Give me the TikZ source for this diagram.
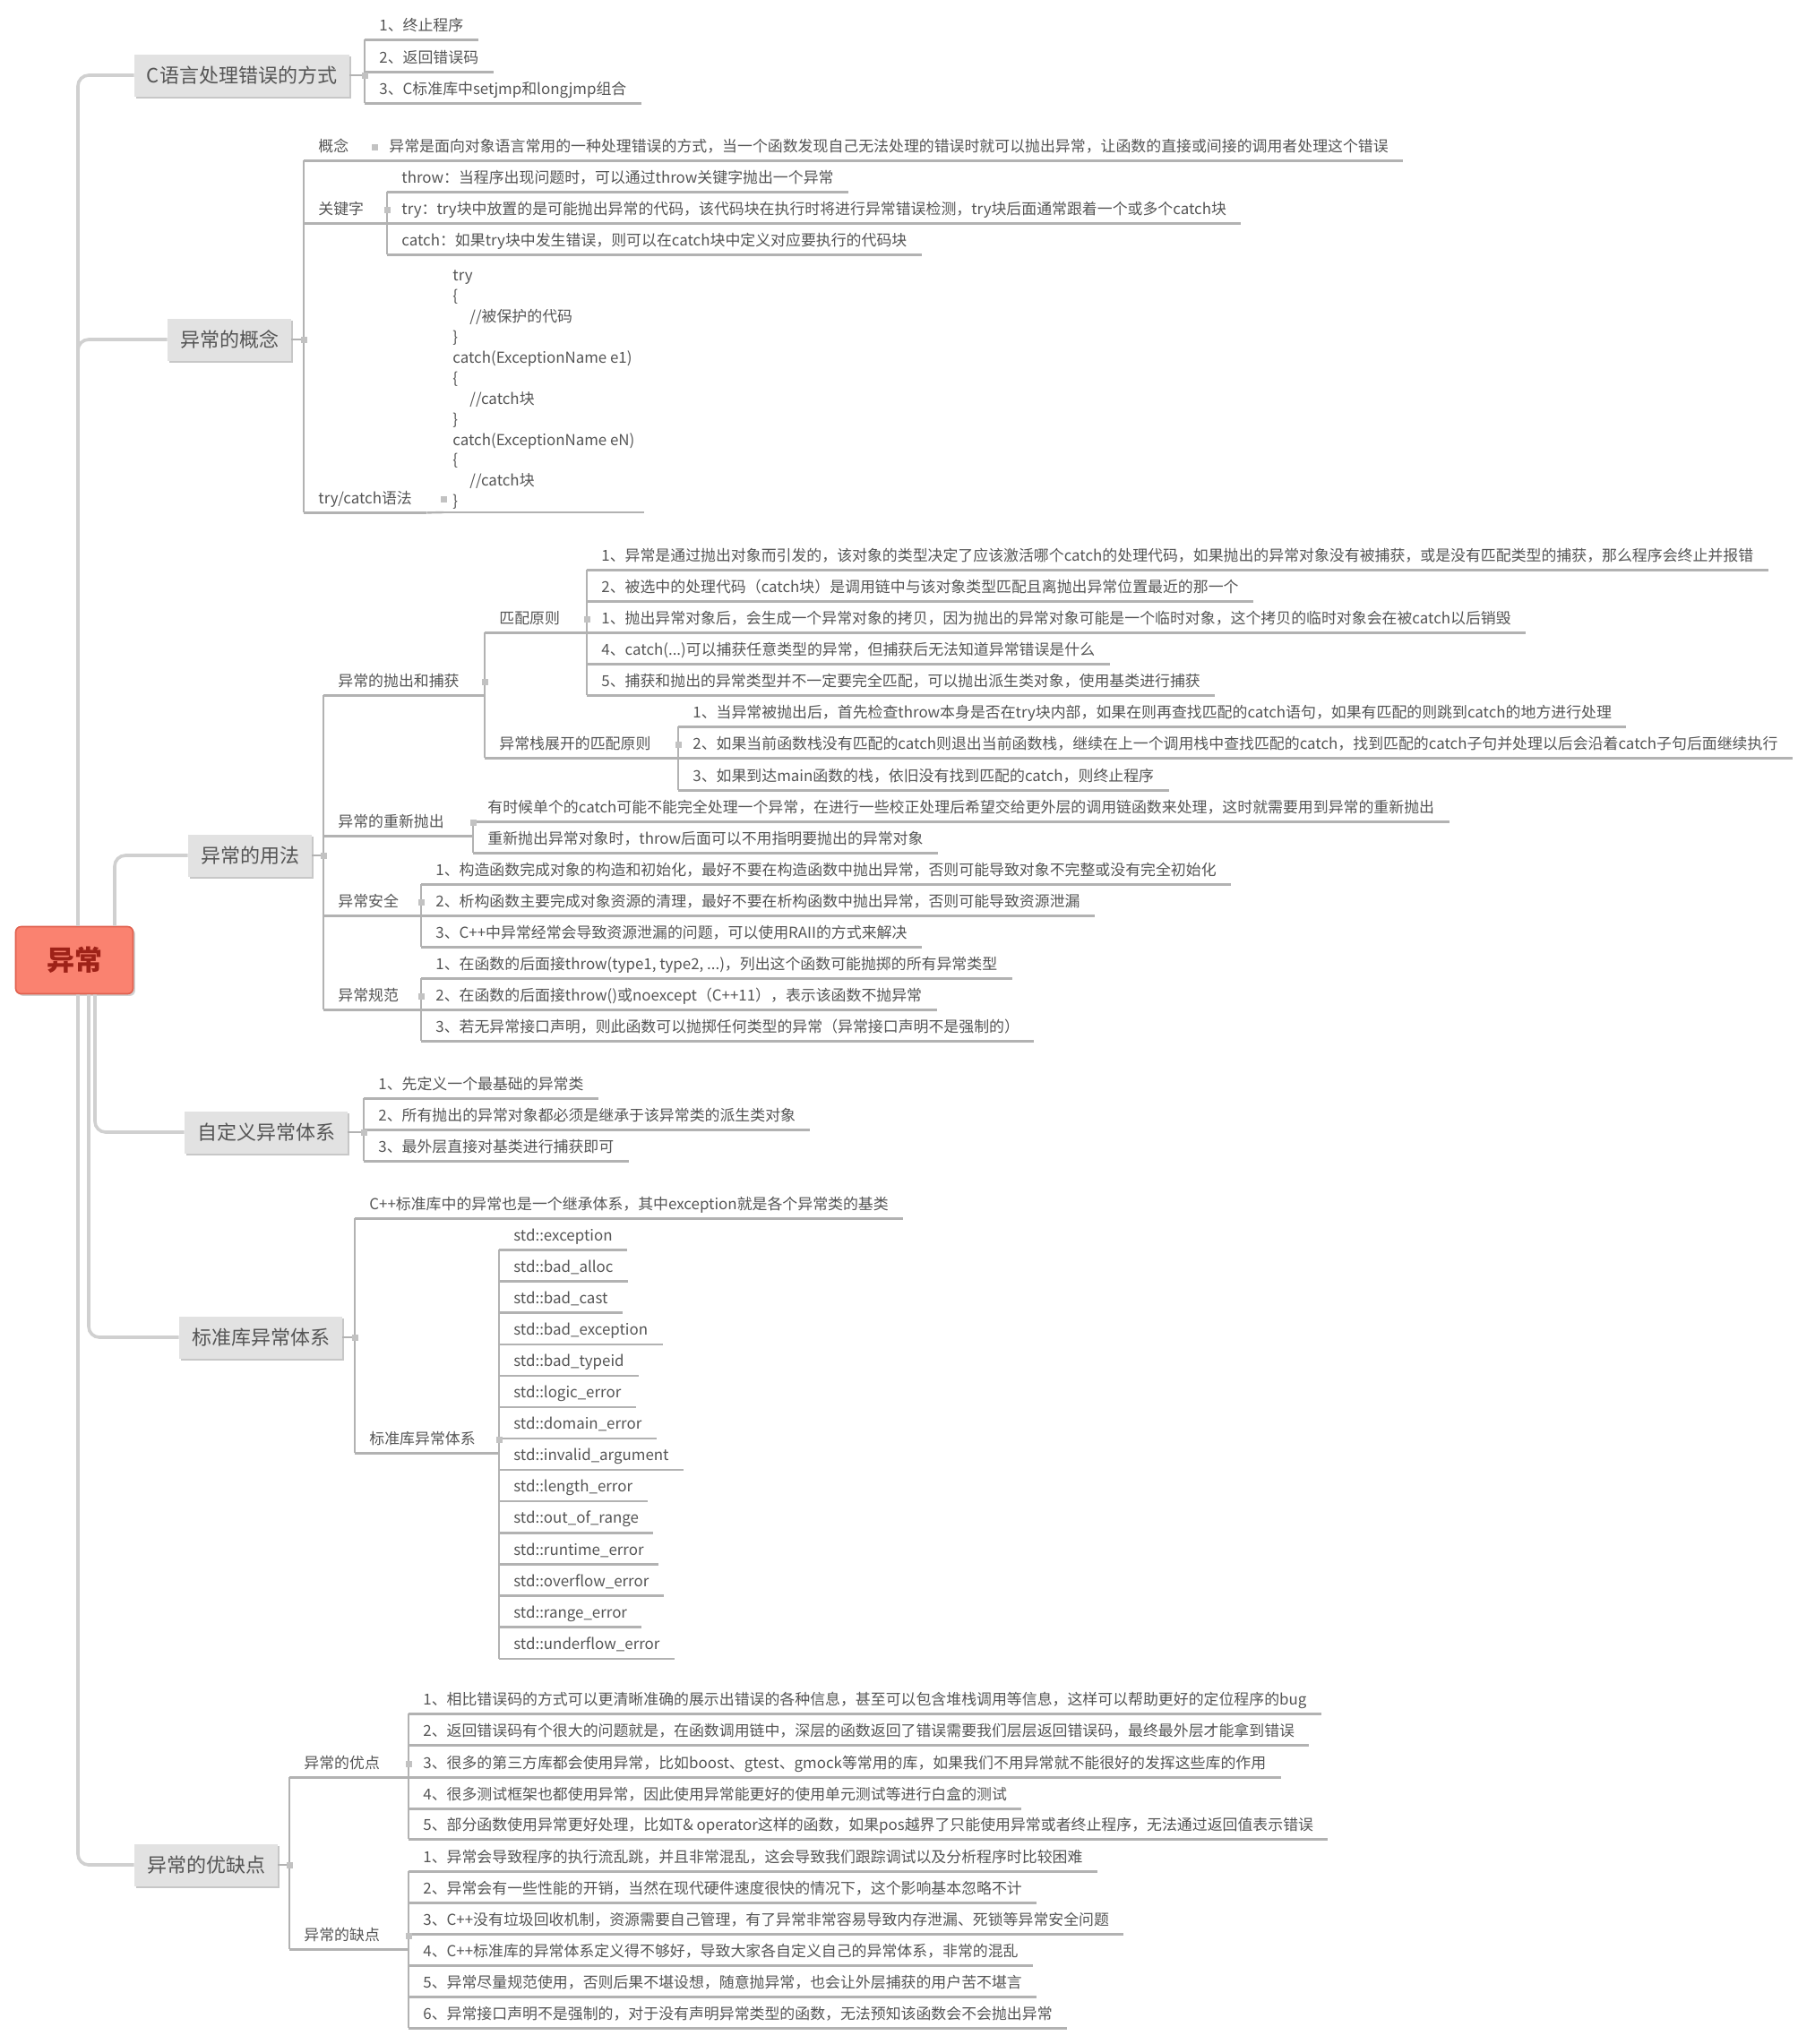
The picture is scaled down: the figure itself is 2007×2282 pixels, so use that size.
\documentclass[tikz,border=0pt]{standalone}
\usepackage{fontspec}
\setmainfont{Noto Sans CJK SC}
\usetikzlibrary{positioning,shadows}

\definecolor{lncol}{HTML}{B2B2B2}
\definecolor{trunkcol}{HTML}{D0D0D0}
\definecolor{txtcol}{HTML}{555555}
\definecolor{topicfill}{HTML}{E2E2E2}
\definecolor{rootfill}{HTML}{FA8270}
\definecolor{rootdraw}{HTML}{E0604E}
\definecolor{roottext}{HTML}{9E2218}
\definecolor{hdlcol}{HTML}{C2C2C2}

\begin{document}
\begin{tikzpicture}[x=0.5pt, y=-0.5pt,
  ln/.style={draw=lncol, line width=1.2pt},
  trunk/.style={draw=trunkcol, line width=1.8pt, rounded corners=6pt},
  leaf/.style={anchor=west, inner xsep=8pt, inner ysep=0pt, text height=6.5pt, text depth=1.5pt,
    minimum height=15pt, font=\fontsize{8.45}{10}\selectfont, text=txtcol,
    append after command={(\tikzlastnode.south west) edge[ln] (\tikzlastnode.south east)}},
  codebox/.style={anchor=south west, align=left, inner xsep=5pt, inner ysep=1.5pt,
    font=\fontsize{8.45}{11.45}\selectfont, text=txtcol,
    append after command={(\tikzlastnode.south west) edge[ln] (\tikzlastnode.south east)}},
  topic/.style={fill=topicfill, text=txtcol, font=\fontsize{11}{13}\selectfont, minimum height=23.5pt,
    inner xsep=7pt, drop shadow={shadow xshift=1.2pt, shadow yshift=-1.2pt, fill=black!22, opacity=1}},
  rootbox/.style={fill=rootfill, draw=rootdraw, line width=0.8pt, rounded corners=3pt, text=roottext,
    font=\fontsize{15.5}{18}\selectfont\bfseries, minimum width=65.5pt, minimum height=37.5pt,
    drop shadow={shadow xshift=1.2pt, shadow yshift=-1.2pt, fill=black!18, opacity=1}},
  handle/.style={fill=hdlcol, minimum size=3.5pt, inner sep=0pt}
]
\fill[white] (0,0) rectangle (2007,2282);
\useasboundingbox (0,0) rectangle (2007,2282);

% root and main topics
\node[rootbox] (root) at (83,1072) {异常};
\node[topic] (cway) at (270,84) {C语言处理错误的方式};
\node[topic] (concept) at (256,379) {异常的概念};
\node[topic] (usage) at (279,955) {异常的用法};
\node[topic] (custom) at (297,1264) {自定义异常体系};
\node[topic] (stdlib) at (291,1493) {标准库异常体系};
\node[topic] (proscons) at (230,2082) {异常的优缺点};

\draw[trunk] ([xshift=2pt]root.north) |- (cway.west);
\draw[trunk] ([xshift=2pt]root.north) |- (concept.west);
\draw[trunk] ([xshift=22.5pt]root.north) |- (usage.west);
\draw[trunk] ([xshift=11.5pt]root.south) |- (custom.west);
\draw[trunk] ([xshift=8pt]root.south) |- (stdlib.west);
\draw[trunk] ([xshift=2pt]root.south) |- (proscons.west);

% C语言处理错误的方式
\node[leaf] (cw1) at (407,29) {1、终止程序};
\node[leaf] (cw2) at (407,65) {2、返回错误码};
\node[leaf] (cw3) at (407,100) {3、C标准库中setjmp和longjmp组合};
\draw[ln] (cway.east) -- (cway.east -| cw1.west);
\draw[ln] (cw1.south west) -- (cw3.south west);
\node[handle] (h-cway) at (cway.east -| cw1.west) {};

% 异常的概念
\node[leaf] (kc) at (339,164) {概念};
\node[leaf] (kcdef) at (418,164) {异常是面向对象语言常用的一种处理错误的方式，当一个函数发现自己无法处理的错误时就可以抛出异常，让函数的直接或间接的调用者处理这个错误};
\node[leaf] (kw) at (339,234) {关键字};
\node[leaf] (kw1) at (432,199) {throw：当程序出现问题时，可以通过throw关键字抛出一个异常};
\node[leaf] (kw2) at (432,234) {try：try块中放置的是可能抛出异常的代码，该代码块在执行时将进行异常错误检测，try块后面通常跟着一个或多个catch块};
\node[leaf] (kw3) at (432,269) {catch：如果try块中发生错误，则可以在catch块中定义对应要执行的代码块};
\node[leaf] (tcs) at (339,557) {try/catch语法};
\node[codebox] (code) at (495,572) {try\\
\{\\
\hspace*{9.5pt}//被保护的代码\\
\}\\
catch(ExceptionName e1)\\
\{\\
\hspace*{9.5pt}//catch块\\
\}\\
catch(ExceptionName eN)\\
\{\\
\hspace*{9.5pt}//catch块\\
\}};
\draw[ln] (concept.east) -- (concept.east -| kc.west);
\draw[ln] (kc.south west) -- (tcs.south west);
\node[handle] (h-concept) at (concept.east -| kc.west) {};
\draw[ln] (kc.south east) -- (kcdef.south west);
\node[handle] (h-kc) at (kc.east -| kcdef.west) {};
\draw[ln] (kw.south east) -- (kw.south east -| kw1.west);
\draw[ln] (kw1.south west) -- (kw3.south west);
\node[handle] (h-kw) at (kw.east -| kw1.west) {};
\draw[ln] (tcs.south east) -- (code.south west);
\node[handle] (h-tcs) at (tcs.east -| code.west) {};

% 异常的用法
\node[leaf] (tc) at (361,761) {异常的抛出和捕获};
\node[leaf] (mr) at (541,691) {匹配原则};
\node[leaf] (mr1) at (655,621) {1、异常是通过抛出对象而引发的，该对象的类型决定了应该激活哪个catch的处理代码，如果抛出的异常对象没有被捕获，或是没有匹配类型的捕获，那么程序会终止并报错};
\node[leaf] (mr2) at (655,656) {2、被选中的处理代码（catch块）是调用链中与该对象类型匹配且离抛出异常位置最近的那一个};
\node[leaf] (mr3) at (655,691) {1、抛出异常对象后，会生成一个异常对象的拷贝，因为抛出的异常对象可能是一个临时对象，这个拷贝的临时对象会在被catch以后销毁};
\node[leaf] (mr4) at (655,726) {4、catch(...)可以捕获任意类型的异常，但捕获后无法知道异常错误是什么};
\node[leaf] (mr5) at (655,761) {5、捕获和抛出的异常类型并不一定要完全匹配，可以抛出派生类对象，使用基类进行捕获};
\node[leaf] (su) at (541,831) {异常栈展开的匹配原则};
\node[leaf] (su1) at (757,796) {1、当异常被抛出后，首先检查throw本身是否在try块内部，如果在则再查找匹配的catch语句，如果有匹配的则跳到catch的地方进行处理};
\node[leaf] (su2) at (757,831) {2、如果当前函数栈没有匹配的catch则退出当前函数栈，继续在上一个调用栈中查找匹配的catch，找到匹配的catch子句并处理以后会沿着catch子句后面继续执行};
\node[leaf] (su3) at (757,867) {3、如果到达main函数的栈，依旧没有找到匹配的catch，则终止程序};
\node[leaf] (rt) at (361,918) {异常的重新抛出};
\node[leaf] (rt1) at (528,902) {有时候单个的catch可能不能完全处理一个异常，在进行一些校正处理后希望交给更外层的调用链函数来处理，这时就需要用到异常的重新抛出};
\node[leaf] (rt2) at (528,937) {重新抛出异常对象时，throw后面可以不用指明要抛出的异常对象};
\node[leaf] (sf) at (361,1007) {异常安全};
\node[leaf] (sf1) at (470,972) {1、构造函数完成对象的构造和初始化，最好不要在构造函数中抛出异常，否则可能导致对象不完整或没有完全初始化};
\node[leaf] (sf2) at (470,1007) {2、析构函数主要完成对象资源的清理，最好不要在析构函数中抛出异常，否则可能导致资源泄漏};
\node[leaf] (sf3) at (470,1042) {3、C++中异常经常会导致资源泄漏的问题，可以使用RAII的方式来解决};
\node[leaf] (sp) at (361,1112) {异常规范};
\node[leaf] (sp1) at (470,1077) {1、在函数的后面接throw(type1, type2, ...)，列出这个函数可能抛掷的所有异常类型};
\node[leaf] (sp2) at (470,1112) {2、在函数的后面接throw()或noexcept（C++11），表示该函数不抛异常};
\node[leaf] (sp3) at (470,1147) {3、若无异常接口声明，则此函数可以抛掷任何类型的异常（异常接口声明不是强制的）};
\draw[ln] (usage.east) -- (usage.east -| tc.west);
\draw[ln] (tc.south west) -- (sp.south west);
\node[handle] (h-usage) at (usage.east -| tc.west) {};
\draw[ln] (tc.south east) -- (tc.south east -| mr.west);
\draw[ln] (mr.south west) -- (su.south west);
\node[handle] (h-tc) at (tc.east -| mr.west) {};
\draw[ln] (mr.south east) -- (mr.south east -| mr1.west);
\draw[ln] (mr1.south west) -- (mr5.south west);
\node[handle] (h-mr) at (mr.east -| mr1.west) {};
\draw[ln] (su.south east) -- (su.south east -| su1.west);
\draw[ln] (su1.south west) -- (su3.south west);
\node[handle] (h-su) at (su.east -| su1.west) {};
\draw[ln] (rt.south east) -- (rt.south east -| rt1.west);
\draw[ln] (rt1.south west) -- (rt2.south west);
\node[handle] (h-rt) at (rt.east -| rt1.west) {};
\draw[ln] (sf.south east) -- (sf.south east -| sf1.west);
\draw[ln] (sf1.south west) -- (sf3.south west);
\node[handle] (h-sf) at (sf.east -| sf1.west) {};
\draw[ln] (sp.south east) -- (sp.south east -| sp1.west);
\draw[ln] (sp1.south west) -- (sp3.south west);
\node[handle] (h-sp) at (sp.east -| sp1.west) {};

% 自定义异常体系
\node[leaf] (cu1) at (406,1211) {1、先定义一个最基础的异常类};
\node[leaf] (cu2) at (406,1246) {2、所有抛出的异常对象都必须是继承于该异常类的派生类对象};
\node[leaf] (cu3) at (406,1281) {3、最外层直接对基类进行捕获即可};
\draw[ln] (custom.east) -- (custom.east -| cu1.west);
\draw[ln] (cu1.south west) -- (cu3.south west);
\node[handle] (h-custom) at (custom.east -| cu1.west) {};

% 标准库异常体系
\node[leaf] (sl1) at (396,1345) {C++标准库中的异常也是一个继承体系，其中exception就是各个异常类的基类};
\node[leaf] (slsub) at (396,1607) {标准库异常体系};
\foreach \ename [count=\i] in {exception, bad\_alloc, bad\_cast, bad\_exception, bad\_typeid,
    logic\_error, domain\_error, invalid\_argument, length\_error, out\_of\_range,
    runtime\_error, overflow\_error, range\_error, underflow\_error}
  \node[leaf] (std\i) at (557,{1380+35.1*(\i-1)}) {std::\ename};
\draw[ln] (stdlib.east) -- (stdlib.east -| sl1.west);
\draw[ln] (sl1.south west) -- (slsub.south west);
\node[handle] (h-stdlib) at (stdlib.east -| sl1.west) {};
\draw[ln] (slsub.south east) -- (slsub.south east -| std1.west);
\draw[ln] (std1.south west) -- (std14.south west);
\node[handle] (h-slsub) at (slsub.east -| std1.west) {};

% 异常的优缺点
\node[leaf] (pro) at (323,1969) {异常的优点};
\node[leaf] (pro1) at (456,1898) {1、相比错误码的方式可以更清晰准确的展示出错误的各种信息，甚至可以包含堆栈调用等信息，这样可以帮助更好的定位程序的bug};
\node[leaf] (pro2) at (456,1933) {2、返回错误码有个很大的问题就是，在函数调用链中，深层的函数返回了错误需要我们层层返回错误码，最终最外层才能拿到错误};
\node[leaf] (pro3) at (456,1969) {3、很多的第三方库都会使用异常，比如boost、gtest、gmock等常用的库，如果我们不用异常就不能很好的发挥这些库的作用};
\node[leaf] (pro4) at (456,2004) {4、很多测试框架也都使用异常，因此使用异常能更好的使用单元测试等进行白盒的测试};
\node[leaf] (pro5) at (456,2038) {5、部分函数使用异常更好处理，比如T\& operator这样的函数，如果pos越界了只能使用异常或者终止程序，无法通过返回值表示错误};
\node[leaf] (con) at (323,2161) {异常的缺点};
\node[leaf] (con1) at (456,2074) {1、异常会导致程序的执行流乱跳，并且非常混乱，这会导致我们跟踪调试以及分析程序时比较困难};
\node[leaf] (con2) at (456,2109) {2、异常会有一些性能的开销，当然在现代硬件速度很快的情况下，这个影响基本忽略不计};
\node[leaf] (con3) at (456,2144) {3、C++没有垃圾回收机制，资源需要自己管理，有了异常非常容易导致内存泄漏、死锁等异常安全问题};
\node[leaf] (con4) at (456,2179) {4、C++标准库的异常体系定义得不够好，导致大家各自定义自己的异常体系，非常的混乱};
\node[leaf] (con5) at (456,2214) {5、异常尽量规范使用，否则后果不堪设想，随意抛异常，也会让外层捕获的用户苦不堪言};
\node[leaf] (con6) at (456,2249) {6、异常接口声明不是强制的，对于没有声明异常类型的函数，无法预知该函数会不会抛出异常};
\draw[ln] (proscons.east) -- (proscons.east -| pro.west);
\draw[ln] (pro.south west) -- (con.south west);
\node[handle] (h-proscons) at (proscons.east -| pro.west) {};
\draw[ln] (pro.south east) -- (pro.south east -| pro1.west);
\draw[ln] (pro1.south west) -- (pro5.south west);
\node[handle] (h-pro) at (pro.east -| pro1.west) {};
\draw[ln] (con.south east) -- (con.south east -| con1.west);
\draw[ln] (con1.south west) -- (con6.south west);
\node[handle] (h-con) at (con.east -| con1.west) {};
\end{tikzpicture}
\end{document}
